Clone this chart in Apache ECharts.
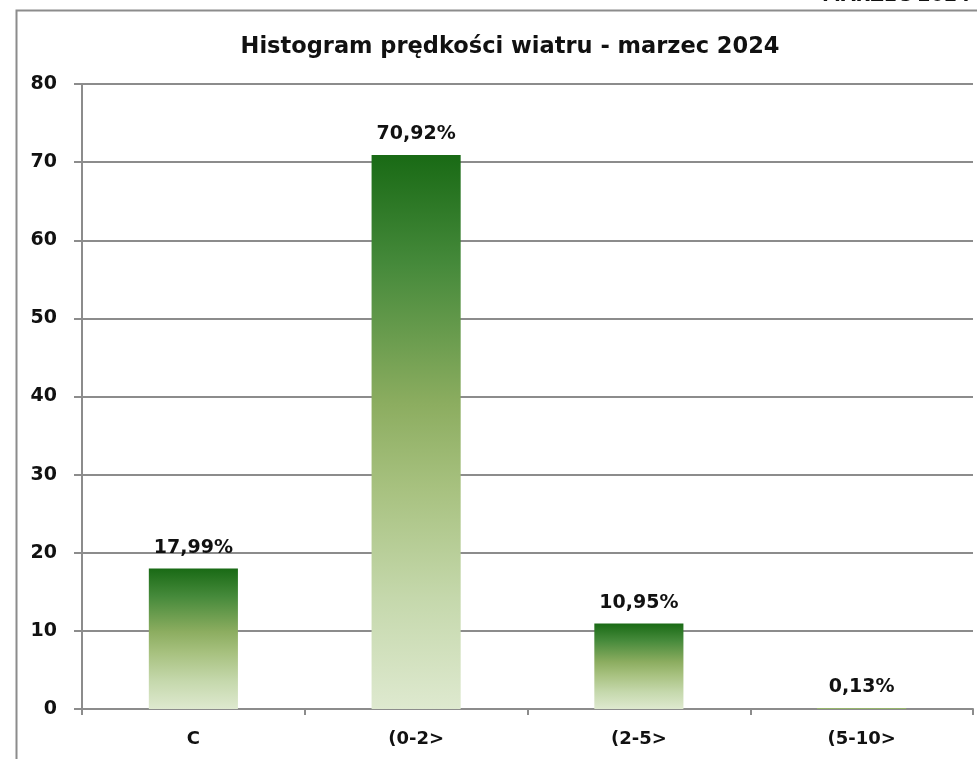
<!DOCTYPE html>
<html><head><meta charset="utf-8">
<script src="https://cdn.jsdelivr.net/npm/echarts@6/dist/echarts.min.js"></script>
<style>html,body{margin:0;padding:0;background:#fff}#c{width:977px;height:759px}</style>
</head><body><div id="c"></div>
<script>
const categories = ['C', '(0-2>', '(2-5>', '(5-10>'];
const values = [17.99, 70.92, 10.95, 0.13];
const yTicks = [0, 10, 20, 30, 40, 50, 60, 70, 80];
const titleText = 'Histogram prędkości wiatru - marzec 2024';

const chart = echarts.init(document.getElementById('c'), null, {renderer: 'canvas'});
const FONT = '"DejaVu Sans", "Open Sans", sans-serif';
chart.setOption({
  animation: false,
  backgroundColor: '#fff',
  title: {
    text: titleText, left: 505, top: 31, textAlign: 'center',
    textStyle: {fontFamily: FONT, fontWeight: 'bold', fontSize: 22.5, color: '#111'}
  },
  graphic: [
    {type: 'rect', left: 14, top: 8, shape: {width: 1000, height: 800},
     style: {fill: 'none', stroke: '#8c8c8c', lineWidth: 2}, silent: true, z: -1},
    {type: 'text', left: 822, top: -13, style: {text: 'MARZEC 2024', font: 'bold 19px "DejaVu Sans"', fill: '#111'}}
  ],
  grid: {left: 82, right: 4, top: 84, bottom: 50, containLabel: false},
  xAxis: {
    type: 'category', data: categories,
    axisLine: {lineStyle: {color: '#8c8c8c', width: 2}},
    axisTick: {show: true, length: 6, alignWithLabel: false, lineStyle: {color: '#8c8c8c', width: 2}},
    axisLabel: {fontFamily: FONT, fontWeight: 'bold', fontSize: 18, color: '#111', margin: 21}
  },
  yAxis: {
    type: 'value', min: yTicks[0], max: yTicks[yTicks.length - 1], interval: 10,
    axisLine: {show: true, lineStyle: {color: '#8c8c8c', width: 2}},
    axisTick: {show: true, length: 8, lineStyle: {color: '#8c8c8c', width: 2}},
    splitLine: {show: true, lineStyle: {color: '#8c8c8c', width: 2}},
    axisLabel: {fontFamily: FONT, fontWeight: 'bold', fontSize: 19, color: '#111', margin: 25}
  },
  series: [{
    type: 'bar', data: values, barWidth: '40%',
    itemStyle: {
      color: new echarts.graphic.LinearGradient(0, 0, 0, 1, [
        {offset: 0, color: '#196a15'},
        {offset: 0.2, color: '#468a3b'},
        {offset: 0.45, color: '#8cad60'},
        {offset: 0.6, color: '#a7c17f'},
        {offset: 0.8, color: '#c5d8ac'},
        {offset: 1, color: '#dee9cf'}
      ])
    },
    label: {
      show: true, position: 'top', distance: 11,
      fontFamily: FONT, fontWeight: 'bold', fontSize: 19, color: '#111',
      formatter: p => p.value.toFixed(2).replace('.', ',') + '%'
    }
  }]
});
</script></body></html>
